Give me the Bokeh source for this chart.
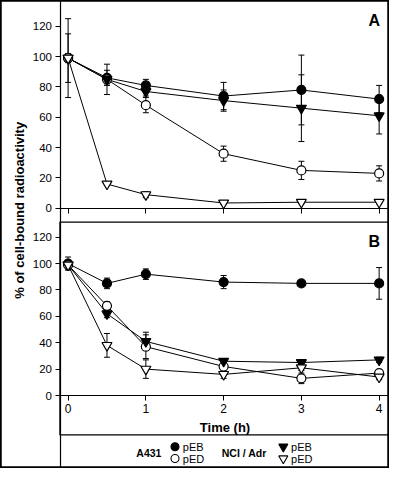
import math
from bokeh.plotting import figure
from bokeh.models import (Range1d, LinearAxis, FixedTicker, Whisker, TeeHead,
                          ColumnDataSource, Label, BoxAnnotation)
from bokeh.embed import file_html
from bokeh.resources import INLINE

# ---------------- data ----------------
time_h = [0, 0.5, 1, 2, 3, 4]
time_ticks = [0, 1, 2, 3, 4]
pct_ticks = [0, 20, 40, 60, 80, 100, 120]

# Panel A
A_a431_pEB = [99, 86, 81, 74, 78, 72]
A_a431_pEB_err = [26, 5, 4, 9, 23, 9]
A_a431_pED = [99, 85, 68, 36, 25, 23]
A_a431_pED_err = [3, 3, 5, 5, 6, 5]
A_nci_pEB = [99, 85, 77, 71, 66, 61]
A_nci_pEB_err = [16, 10, 3, 7, 22, 12]
A_nci_pED = [99, 16, 9, 3.5, 4, 4]
A_nci_pED_err = [2, 1, 2, 1, 1, 1]

# Panel B
B_a431_pEB = [100, 85, 92, 86, 85, 85]
B_a431_pEB_err = [5, 4, 4, 5, 1, 12]
B_a431_pED = [99, 68, 37, 22, 13, 17]
B_a431_pED_err = [3, 3, 9, 2, 4, 2]
B_nci_pEB = [99, 62, 41, 26, 25, 27]
B_nci_pEB_err = [3, 3, 7, 2, 2, 2]
B_nci_pED = [99, 38, 20, 16, 21, 14]
B_nci_pED_err = [3, 9, 7, 3, 2, 2]

panel_labels = ["A", "B"]
group_names = ["A431", "NCI / Adr"]
series_names = ["pEB", "pED"]
x_label = "Time (h)"
y_label = "% of cell-bound radioactivity"

# ---------------- layout constants ----------------
FONT = "Liberation Sans"
W, H = 389, 468
X_ZERO_PX = 67.6      # pixel of t = 0 from the left edge
PX_PER_H = 77.76
A_ZERO, A_PPU = 207.8, 1.517   # panel A: pixel of 0 from top, px per unit
B_ZERO, B_PPU = 395.0, 1.319   # panel B
SEP1, SEP2 = 221.6, 434.4      # horizontal separators (px from top)
VLINE_PX = 59.5


def x_of_px(px):
    return (px - X_ZERO_PX) / PX_PER_H


def yA(py):
    return (A_ZERO - py) / A_PPU


def yB(py):
    return (B_ZERO - py) / B_PPU


x_start, x_end = x_of_px(0), x_of_px(W)
x_line = x_of_px(VLINE_PX)

p = figure(width=W, height=H,
           x_range=Range1d(x_start, x_end), y_range=Range1d(yA(H), yA(0)),
           x_axis_type=None, y_axis_type=None,
           output_backend="svg", toolbar_location=None, min_border=0)
p.extra_y_ranges = {"B": Range1d(yB(H), yB(0))}
p.outline_line_color = "black"
p.outline_line_width = 2.5
p.outline_line_alpha = 1
p.background_fill_color = "white"
p.border_fill_color = "white"


def style_axis(ax, size="11.5px"):
    ax.axis_line_color = "black"
    ax.axis_line_width = 1.2
    ax.major_tick_line_color = "black"
    ax.major_tick_line_width = 1
    ax.major_tick_out = 5
    ax.major_tick_in = 0
    ax.minor_tick_out = 0
    ax.minor_tick_in = 0
    ax.major_label_text_font = FONT
    ax.major_label_text_font_size = size
    ax.major_label_text_color = "black"
    ax.major_label_standoff = 3


ya = LinearAxis(ticker=FixedTicker(ticks=pct_ticks), fixed_location=x_line,
                bounds=(yA(SEP1), yA(0)))
style_axis(ya)
p.add_layout(ya, "left")

yb = LinearAxis(y_range_name="B", ticker=FixedTicker(ticks=pct_ticks),
                fixed_location=x_line, bounds=(yB(H), yB(SEP1)))
style_axis(yb)
p.add_layout(yb, "left")

xa = LinearAxis(ticker=FixedTicker(ticks=time_ticks), fixed_location=0,
                bounds=(x_line, x_end),
                major_label_overrides={t: "" for t in time_ticks})
style_axis(xa)
p.add_layout(xa, "below")

xb = LinearAxis(y_range_name="B", ticker=FixedTicker(ticks=time_ticks),
                fixed_location=0, bounds=(x_line, x_end), axis_label=x_label)
style_axis(xb, "12px")
xb.axis_label_text_font = FONT
xb.axis_label_text_font_size = "13px"
xb.axis_label_text_font_style = "bold"
xb.axis_label_text_color = "black"
xb.axis_label_standoff = 4
p.add_layout(xb, "below")

# separators between panel A, panel B and the key
p.add_layout(BoxAnnotation(left=x_line, right=x_end, top=yB(SEP1), bottom=yB(SEP2),
                           y_range_name="B", fill_color=None, fill_alpha=0,
                           line_color="black", line_alpha=1, line_width=1.4))

series = [
    # (panel range, values, errors, marker, fill)
    ("default", A_a431_pEB, A_a431_pEB_err, "circle", "black"),
    ("default", A_a431_pED, A_a431_pED_err, "circle", "white"),
    ("default", A_nci_pEB, A_nci_pEB_err, "inverted_triangle", "black"),
    ("default", A_nci_pED, A_nci_pED_err, "inverted_triangle", "white"),
    ("B", B_a431_pEB, B_a431_pEB_err, "circle", "black"),
    ("B", B_a431_pED, B_a431_pED_err, "circle", "white"),
    ("B", B_nci_pEB, B_nci_pEB_err, "inverted_triangle", "black"),
    ("B", B_nci_pED, B_nci_pED_err, "inverted_triangle", "white"),
]

sources = []
for rng, vals, errs, marker, fill in series:
    src = ColumnDataSource(dict(
        x=time_h, y=vals,
        upper=[v + e for v, e in zip(vals, errs)],
        lower=[v - e for v, e in zip(vals, errs)]))
    sources.append(src)
    p.add_layout(Whisker(source=src, base="x", upper="upper", lower="lower",
                         y_range_name=rng, line_color="black", line_width=1,
                         upper_head=TeeHead(size=6, line_color="black", line_width=1),
                         lower_head=TeeHead(size=6, line_color="black", line_width=1)))

for (rng, vals, errs, marker, fill), src in zip(series, sources):
    p.line("x", "y", source=src, y_range_name=rng, line_color="black", line_width=1)

for (rng, vals, errs, marker, fill), src in zip(series, sources):
    size = 9 if marker == "circle" else 10
    p.scatter("x", "y", source=src, y_range_name=rng, marker=marker, size=size,
              fill_color=fill, line_color="black", line_width=1.2)

# panel letters
p.add_layout(Label(x=x_of_px(379.5), y=yA(19.7), text=panel_labels[0],
                   text_align="right", text_baseline="middle",
                   text_font=FONT, text_font_size="16px", text_font_style="bold",
                   text_color="black"))
p.add_layout(Label(x=x_of_px(379.5), y=yB(241.3), y_range_name="B", text=panel_labels[1],
                   text_align="right", text_baseline="middle",
                   text_font=FONT, text_font_size="16px", text_font_style="bold",
                   text_color="black"))

# y axis title
p.add_layout(Label(x=x_of_px(18.5), y=yA(209.8), text=y_label, angle=math.pi / 2,
                   text_align="center", text_baseline="middle",
                   text_font=FONT, text_font_size="13px", text_font_style="bold",
                   text_color="black"))

# key
row1, row2, mid = yB(446.2), yB(458.0), yB(452.1)
group_right = [x_of_px(160.9), x_of_px(266.2)]
marker_x = [x_of_px(174.5), x_of_px(282.8)]
text_x = [x_of_px(182.3), x_of_px(290.6)]
key_markers = ["circle", "inverted_triangle"]
for g in range(2):
    p.add_layout(Label(x=group_right[g], y=mid, y_range_name="B", text=group_names[g],
                       text_align="right", text_baseline="middle",
                       text_font=FONT, text_font_size="10.5px", text_font_style="bold",
                       text_color="black"))
    for k, (yy, fill) in enumerate([(row1, "black"), (row2, "white")]):
        p.scatter([marker_x[g]], [yy], y_range_name="B", marker=key_markers[g],
                  size=8 if g == 0 else 9, fill_color=fill, line_color="black",
                  line_width=1.1)
        p.add_layout(Label(x=text_x[g], y=yy, y_range_name="B", text=series_names[k],
                           text_align="left", text_baseline="middle",
                           text_font=FONT, text_font_size="11px",
                           text_color="black"))

open("out.html", "w").write(file_html(p, INLINE))
